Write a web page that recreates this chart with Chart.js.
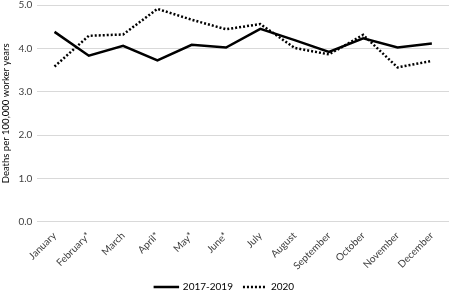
<!DOCTYPE html>
<html>
<head>
<meta charset="utf-8">
<script src="https://cdn.jsdelivr.net/npm/chart.js@4"></script>
<style>
  html, body { margin: 0; padding: 0; background: #fff; overflow: hidden; }
  #wrap { position: relative; top: -6px; width: 450px; height: 296px; }
</style>
</head>
<body>
<div id="wrap"><canvas id="myChart"></canvas></div>
<script>
var months = ['January', 'February*', 'March', 'April*', 'May*', 'June*', 'July',
  'August', 'September', 'October', 'November', 'December'];
var base2017_2019 = [4.38, 3.83, 4.06, 3.72, 4.08, 4.02, 4.45, 4.19, 3.92, 4.23, 4.02, 4.11];
var rate2020 = [3.58, 4.29, 4.32, 4.91, 4.66, 4.44, 4.56, 4.01, 3.86, 4.31, 3.56, 3.71];

Chart.defaults.font.family = 'Lato, "Liberation Sans", sans-serif';
Chart.defaults.color = '#404040';

var ctx = document.getElementById('myChart');
var myChart = new Chart(ctx, {
  type: 'line',
  data: {
    labels: months,
    datasets: [{
      label: '2017-2019',
      data: base2017_2019,
      borderColor: '#000',
      backgroundColor: '#000',
      borderWidth: 2.5,
      pointRadius: 0,
      tension: 0
    }, {
      label: '2020',
      data: rate2020,
      borderColor: '#000',
      backgroundColor: '#000',
      borderWidth: 2.5,
      borderDash: [2, 2],
      pointRadius: 0,
      tension: 0
    }]
  },
  options: {
    responsive: true,
    maintainAspectRatio: false,
    animation: false,
    layout: { padding: { top: 0, right: 1, left: 0, bottom: -12 } },
    plugins: {
      legend: {
        position: 'bottom',
        labels: {
          boxWidth: 23,
          boxHeight: 0.01,
          padding: 10,
          color: '#000',
          font: { size: 10 },
          generateLabels: function (chart) {
            var items = Chart.defaults.plugins.legend.labels.generateLabels(chart);
            items.forEach(function (it) {
              it.fillStyle = 'rgba(0,0,0,0)';
              it.lineWidth = 2.5;
            });
            return items;
          }
        }
      },
      tooltip: { enabled: false }
    },
    scales: {
      x: {
        offset: true,
        grid: { display: false },
        border: { display: false },
        ticks: {
          maxRotation: 45,
          minRotation: 45,
          font: { size: 10 },
          padding: 0
        }
      },
      y: {
        min: 0,
        max: 5,
        ticks: {
          stepSize: 1,
          font: { size: 10 },
          padding: 5,
          callback: function (v) { return v.toFixed(1); }
        },
        grid: { color: '#d9d9d9', drawTicks: false },
        border: { display: false },
        title: {
          display: true,
          text: 'Deaths per 100,000 worker years',
          color: '#000',
          font: { size: 9.5 },
          padding: { top: 0, bottom: 2 }
        }
      }
    }
  }
});
</script>
</body>
</html>
